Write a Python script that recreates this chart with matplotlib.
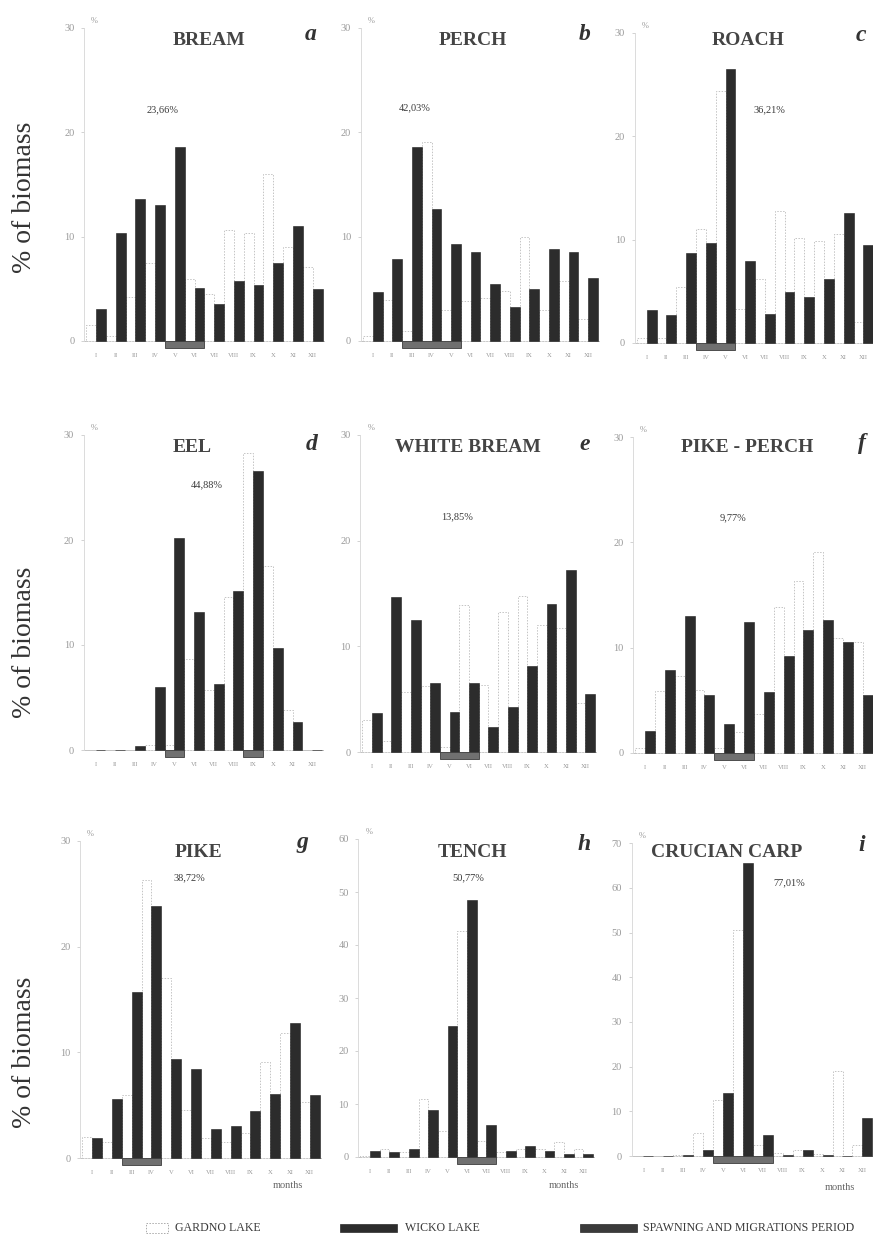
import matplotlib
matplotlib.use("Agg")
import matplotlib.pyplot as plt
from matplotlib.patches import Rectangle

W, H, DPI = 873, 1246, 100
SERIF = ["Liberation Serif", "DejaVu Serif"]
plt.rcParams["font.family"] = SERIF

# ---------------------------------------------------------------- data
months = ["I", "II", "III", "IV", "V", "VI", "VII", "VIII", "IX", "X", "XI", "XII"]

species = ["BREAM", "PERCH", "ROACH", "EEL", "WHITE BREAM", "PIKE - PERCH",
           "PIKE", "TENCH", "CRUCIAN CARP"]
panel_letters = ["a", "b", "c", "d", "e", "f", "g", "h", "i"]
shares = ["23,66%", "42,03%", "36,21%", "44,88%", "13,85%", "9,77%",
          "38,72%", "50,77%", "77,01%"]

# monthly share of yearly catch biomass (%) - Gardno Lake
gardno_bream = [1.5, 0.5, 4.2, 7.5, 0.0, 5.9, 4.5, 10.6, 10.3, 16.0, 9.0, 7.1]
gardno_perch = [0.5, 3.9, 1.0, 19.0, 3.0, 3.8, 4.1, 4.8, 10.0, 3.0, 5.7, 2.1]
gardno_roach = [0.5, 0.5, 5.4, 11.0, 24.3, 3.3, 6.2, 12.8, 10.1, 9.9, 10.5, 2.0]
gardno_eel = [0.0, 0.0, 0.0, 0.5, 0.5, 8.7, 5.7, 14.6, 28.3, 17.5, 3.8, 0.0]
gardno_white_bream = [3.0, 1.0, 5.7, 6.2, 0.5, 13.9, 6.3, 13.2, 14.8, 12.0, 11.7, 4.6]
gardno_pike_perch = [0.5, 5.9, 7.3, 6.0, 0.5, 2.0, 3.7, 13.9, 16.3, 19.1, 10.9, 10.5]
gardno_pike = [2.0, 1.5, 6.0, 26.3, 17.0, 4.5, 1.9, 1.5, 2.4, 9.1, 11.8, 5.3]
gardno_tench = [0.1, 1.5, 1.0, 11.0, 5.0, 42.6, 3.0, 1.0, 1.5, 1.5, 2.8, 1.5]
gardno_crucian = [0.0, 0.0, 0.3, 5.1, 12.5, 50.6, 2.5, 0.6, 1.3, 0.5, 19.1, 2.5]

# monthly share of yearly catch biomass (%) - Wicko Lake
wicko_bream = [3.1, 10.3, 13.6, 13.0, 18.6, 5.1, 3.5, 5.7, 5.4, 7.5, 11.0, 5.0]
wicko_perch = [4.7, 7.8, 18.6, 12.6, 9.3, 8.5, 5.5, 3.3, 5.0, 8.8, 8.5, 6.0]
wicko_roach = [3.2, 2.7, 8.7, 9.7, 26.5, 7.9, 2.8, 4.9, 4.4, 6.2, 12.6, 9.5]
wicko_eel = [0.0, 0.0, 0.4, 6.0, 20.2, 13.1, 6.3, 15.1, 26.6, 9.7, 2.7, 0.0]
wicko_white_bream = [3.7, 14.7, 12.5, 6.5, 3.8, 6.5, 2.4, 4.3, 8.1, 14.0, 17.2, 5.5]
wicko_pike_perch = [2.1, 7.9, 13.0, 5.5, 2.8, 12.4, 5.8, 9.2, 11.7, 12.6, 10.5, 5.5]
wicko_pike = [1.9, 5.6, 15.7, 23.8, 9.4, 8.4, 2.7, 3.0, 4.4, 6.1, 12.8, 6.0]
wicko_tench = [1.1, 0.9, 1.6, 8.8, 24.8, 48.4, 6.0, 1.1, 2.1, 1.1, 0.6, 0.5]
wicko_crucian = [0.0, 0.0, 0.2, 1.3, 14.2, 65.5, 4.7, 0.3, 1.3, 0.2, 0.0, 8.4]

# spawning / migration periods (first month, last month)
spawn_bream = [(5, 6)]
spawn_perch = [(3, 5)]
spawn_roach = [(4, 5)]
spawn_eel = [(5, 5), (9, 9)]
spawn_white_bream = [(5, 6)]
spawn_pike_perch = [(5, 6)]
spawn_pike = [(3, 4)]
spawn_tench = [(6, 7)]
spawn_crucian = [(5, 7)]

y_max = [30, 30, 30, 30, 30, 30, 30, 60, 70]

gardno = [gardno_bream, gardno_perch, gardno_roach, gardno_eel, gardno_white_bream,
          gardno_pike_perch, gardno_pike, gardno_tench, gardno_crucian]
wicko = [wicko_bream, wicko_perch, wicko_roach, wicko_eel, wicko_white_bream,
         wicko_pike_perch, wicko_pike, wicko_tench, wicko_crucian]
spawn = [spawn_bream, spawn_perch, spawn_roach, spawn_eel, spawn_white_bream,
         spawn_pike_perch, spawn_pike, spawn_tench, spawn_crucian]

# ---------------------------------------------------------------- layout (pixels)
# (x of month I, px per month, y of zero line, px per percent)
geom = [
    (96.0, 19.7, 341, 10.45), (372.7, 19.6, 341, 10.45), (646.7, 19.7, 343, 10.35),
    (95.6, 19.7, 750, 10.5), (372.0, 19.4, 752, 10.57), (645.0, 19.8, 753, 10.53),
    (92.0, 19.8, 1158, 10.57), (370.0, 19.4, 1157, 5.3), (643.5, 19.9, 1156, 4.47),
]
title_pos = [(209, 45), (473, 45), (748, 45), (192, 452), (468, 452), (747, 452),
             (198, 857), (472, 857), (727, 857)]
letter_pos = [(311, 40), (585, 40), (861, 41), (312, 450), (585, 450), (862, 449),
              (302, 848), (584, 850), (862, 851)]
share_pos = [(163, 110), (415, 108), (769, 110), (207, 485), (457, 517), (733, 518),
             (189, 878), (468, 878), (789, 883)]
ylabel_y = [197, 642, 1052]
months_label_pos = [(288, 1186), (564, 1185), (840, 1187)]

DARK = "#2c2c2c"
SPAWN = "#707070"
TEXT = "#3a3a3a"
TICK = "#9a9a9a"


def fx(x):
    return x / W


def fy(y):
    return 1 - y / H


fig = plt.figure(figsize=(W / DPI, H / DPI), dpi=DPI)
fig.patch.set_facecolor("white")

for k in range(9):
    x0, dx, y0, ppu = geom[k]
    ymax = y_max[k]
    left = x0 + (0.4 - 1) * dx
    right = x0 + (12.6 - 1) * dx
    top = y0 - ymax * ppu - 3
    bottom = y0 + 9
    ax = fig.add_axes([fx(left), fy(bottom), (right - left) / W, (bottom - top) / H])
    ax.set_xlim(0.4, 12.6)
    ax.set_ylim(-9 / ppu, ymax + 3 / ppu)
    ax.patch.set_alpha(0)

    pos = list(range(1, 13))
    ax.bar([p - 0.25 for p in pos], gardno[k], width=0.5, facecolor="white",
           edgecolor="#c4c4c4", linewidth=0.7, linestyle=(0, (1.5, 1.5)), zorder=2)
    ax.bar([p + 0.25 for p in pos], wicko[k], width=0.5, facecolor=DARK,
           edgecolor="#1e1e1e", linewidth=0.4, zorder=3)
    ax.axhline(0, color="#b8b8b8", lw=0.6, zorder=1)

    for (m0, m1) in spawn[k]:
        ax.add_patch(Rectangle((m0 - 0.5, -6.5 / ppu), (m1 - m0) + 1.0, 7.0 / ppu,
                               facecolor=SPAWN, edgecolor="#3c3c3c", linewidth=0.6,
                               zorder=4))

    for s in ["top", "right", "bottom"]:
        ax.spines[s].set_visible(False)
    ax.spines["left"].set_color("#d6d6d6")
    ax.spines["left"].set_linewidth(0.6)
    ax.spines["left"].set_bounds(0, ymax)

    ax.set_yticks(list(range(0, ymax + 1, 10)))
    ax.set_yticklabels([str(v) for v in range(0, ymax + 1, 10)])
    ax.tick_params(axis="y", length=2, width=0.5, color="#c0c0c0", pad=5,
                   labelsize=7.5, labelcolor=TICK)
    ax.set_xticks(pos)
    ax.set_xticklabels(months)
    ax.tick_params(axis="x", length=0, pad=2.5, labelsize=4.8, labelcolor=TICK)

    ax.annotate("%", xy=(0.4, ymax), xycoords="data", xytext=(5, 5),
                textcoords="offset points", fontsize=6, color=TICK, va="center")

    tx, ty = title_pos[k]
    fig.text(fx(tx), fy(ty), species[k], ha="center", va="baseline", fontsize=14,
             fontweight="bold", color="#444444")
    lx, ly = letter_pos[k]
    fig.text(fx(lx), fy(ly), panel_letters[k], ha="center", va="baseline", fontsize=17,
             fontweight="bold", fontstyle="italic", color="#333333")
    sx, sy = share_pos[k]
    fig.text(fx(sx), fy(sy), shares[k], ha="center", va="center", fontsize=7.5,
             color=TEXT)

for yc in ylabel_y:
    fig.text(fx(25), fy(yc), "% of biomass", rotation=90, ha="center", va="center",
             fontsize=20, color="#333333")

for (mx, my) in months_label_pos:
    fig.text(fx(mx), fy(my), "months", ha="center", va="center", fontsize=7.5,
             color="#666666")

# legend strip
ly = 1228
fig.patches.append(Rectangle((fx(146), fy(ly + 5)), 22 / W, 10 / H, transform=fig.transFigure,
                             facecolor="white", edgecolor="#aaaaaa", linewidth=0.7,
                             linestyle=(0, (1.5, 1.5))))
fig.text(fx(175), fy(ly), "GARDNO LAKE", ha="left", va="center", fontsize=8.6, color=TEXT)
fig.patches.append(Rectangle((fx(340), fy(ly + 4)), 57 / W, 8 / H, transform=fig.transFigure,
                             facecolor=DARK, edgecolor=DARK, linewidth=0.5))
fig.text(fx(405), fy(ly), "WICKO LAKE", ha="left", va="center", fontsize=8.6, color=TEXT)
fig.patches.append(Rectangle((fx(580), fy(ly + 4)), 57 / W, 8 / H, transform=fig.transFigure,
                             facecolor="#3a3a3a", edgecolor="#2a2a2a", linewidth=0.5))
fig.text(fx(643), fy(ly), "SPAWNING AND MIGRATIONS PERIOD", ha="left", va="center",
         fontsize=8.6, color=TEXT)

fig.savefig("out.png", dpi=DPI, facecolor="white")
